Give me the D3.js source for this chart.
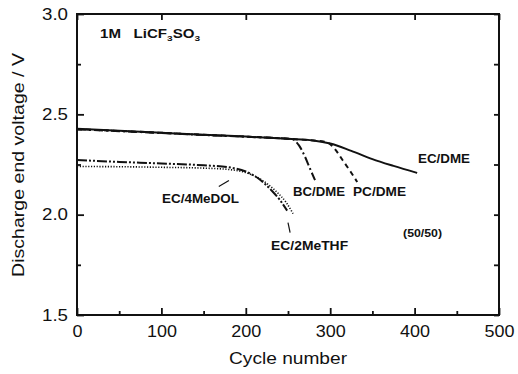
<!DOCTYPE html>
<html>
<head>
<meta charset="utf-8">
<script src="https://cdn.jsdelivr.net/npm/d3@7"></script>
<style>
  body { margin: 0; background: #fff; }
  svg { font-family: "Liberation Sans", Arial, sans-serif; }
</style>
</head>
<body>
<div id="chart"></div>
<script>
// data (cycle, voltage)
const ecDme = [[0,2.428],[50,2.418],[100,2.408],[150,2.398],[200,2.389],[250,2.378],[280,2.37],[300,2.355],[325,2.318],[350,2.277],[375,2.243],[403,2.208]];
const bcDme = [[0,2.425],[50,2.416],[100,2.407],[150,2.397],[200,2.388],[255,2.376],[263,2.345],[270,2.29],[276,2.23],[282,2.172]];
const pcDme = [[0,2.426],[50,2.417],[100,2.408],[150,2.398],[200,2.389],[250,2.378],[295,2.362],[305,2.33],[315,2.27],[324,2.215],[332,2.163]];
const ec4MeDOL = [[0,2.272],[50,2.263],[100,2.255],[150,2.246],[180,2.236],[200,2.215],[215,2.18],[230,2.123],[240,2.075],[249,2.02]];
const ec2MeTHF = [[0,2.24],[50,2.239],[100,2.236],[150,2.232],[180,2.225],[200,2.21],[220,2.17],[235,2.12],[248,2.06],[256,2.005]];

const xTicks = [0, 100, 200, 300, 400, 500];
const yTicks = [1.5, 2.0, 2.5, 3.0];
const xMinor = [50, 150, 250, 350, 450];
const yMinor = [1.75, 2.25, 2.75];

const W = 518, H = 374;
const margin = {top: 14, right: 19, bottom: 59, left: 77};
const width = W - margin.left - margin.right;
const height = H - margin.top - margin.bottom;

const svg = d3.select('#chart')
    .append('svg')
    .attr('width', W)
    .attr('height', H);

const g = svg.append('g')
    .attr('transform', `translate(${margin.left},${margin.top})`);

const x = d3.scaleLinear().domain([0, 500]).range([0, width]);
const y = d3.scaleLinear().domain([1.5, 3.0]).range([height, 0]);

// frame
g.append('rect')
    .attr('width', width)
    .attr('height', height)
    .attr('fill', 'none')
    .attr('stroke', '#111')
    .attr('stroke-width', 2);

function styleAxis(sel) {
    sel.select('.domain').remove();
    sel.selectAll('line').attr('stroke', '#111').attr('stroke-width', 1.8);
}

// bottom axis, labelled (glyphs are a bit wide in the original)
g.append('g')
    .attr('transform', `translate(0,${height})`)
    .call(d3.axisBottom(x).tickValues(xTicks).tickSize(-7).tickPadding(11).tickFormat(d3.format('d')))
    .call(styleAxis)
    .call(s => s.selectAll('text')
        .attr('font-size', 16)
        .attr('fill', '#111')
        .attr('textLength', d => d === 0 ? 10 : 30)
        .attr('lengthAdjust', 'spacingAndGlyphs'));
g.append('g')
    .attr('transform', `translate(0,${height})`)
    .call(d3.axisBottom(x).tickValues(xMinor).tickSize(-4).tickFormat(''))
    .call(styleAxis);

// left axis, labelled
g.append('g')
    .call(d3.axisLeft(y).tickValues(yTicks).tickSize(-7).tickPadding(9).tickFormat(d3.format('.1f')))
    .call(styleAxis)
    .call(s => s.selectAll('text')
        .attr('font-size', 16)
        .attr('fill', '#111')
        .attr('textLength', 26)
        .attr('lengthAdjust', 'spacingAndGlyphs'));
g.append('g')
    .call(d3.axisLeft(y).tickValues(yMinor).tickSize(-4).tickFormat(''))
    .call(styleAxis);

// top and right ticks
g.append('g')
    .call(d3.axisTop(x).tickValues(xTicks).tickSize(-6).tickFormat(''))
    .call(styleAxis);
g.append('g')
    .attr('transform', `translate(${width},0)`)
    .call(d3.axisRight(y).tickValues(yTicks.concat(yMinor)).tickSize(-5).tickFormat(''))
    .call(styleAxis);

// axis titles
svg.append('text')
    .attr('x', 229)
    .attr('y', 364)
    .attr('font-size', 16)
    .attr('fill', '#111')
    .attr('textLength', 118)
    .attr('lengthAdjust', 'spacingAndGlyphs')
    .text('Cycle number');

svg.append('text')
    .attr('transform', 'rotate(-90)')
    .attr('x', -277)
    .attr('y', 24)
    .attr('font-size', 17)
    .attr('fill', '#111')
    .attr('textLength', 224)
    .attr('lengthAdjust', 'spacingAndGlyphs')
    .text('Discharge end voltage / V');

// curves
const line = d3.line()
    .x(d => x(d[0]))
    .y(d => y(d[1]))
    .curve(d3.curveMonotoneX);

const series = [
    {data: ecDme, dash: null},
    {data: pcDme, dash: '5,4'},
    {data: bcDme, dash: '9,3,2,3'},
    {data: ec2MeTHF, dash: '1.2,1.6'},
    {data: ec4MeDOL, dash: '10,2,2,2,2,2'}
];

g.selectAll('.curve')
    .data(series)
    .enter()
    .append('path')
    .attr('class', 'curve')
    .attr('d', d => line(d.data))
    .attr('fill', 'none')
    .attr('stroke', '#111')
    .attr('stroke-width', d => d.dash === '1.2,1.6' ? 1.6 : 2)
    .attr('stroke-dasharray', d => d.dash);

// labels
const labels = [
    {t: 'EC/DME', cx: 404, cy: 2.257, size: 12.5, len: 52},
    {t: 'BC/DME', cx: 256, cy: 2.093, size: 12, len: 52},
    {t: 'PC/DME', cx: 327, cy: 2.093, size: 12, len: 53},
    {t: 'EC/4MeDOL', cx: 100.7, cy: 2.058, size: 12, len: 77},
    {t: 'EC/2MeTHF', cx: 230, cy: 1.824, size: 12, len: 77},
    {t: '(50/50)', cx: 386.3, cy: 1.889, size: 10, len: 39}
];

g.selectAll('.lbl')
    .data(labels)
    .enter()
    .append('text')
    .attr('class', 'lbl')
    .attr('x', d => x(d.cx))
    .attr('y', d => y(d.cy))
    .attr('font-size', d => d.size)
    .attr('font-weight', 'bold')
    .attr('fill', '#111')
    .attr('textLength', d => d.len)
    .attr('lengthAdjust', 'spacingAndGlyphs')
    .text(d => d.t);

// leader lines
const leaders = [
    [[168, 2.14], [180, 2.17]],
    [[252.5, 1.91], [250, 1.96]]
];
g.selectAll('.leader')
    .data(leaders)
    .enter()
    .append('line')
    .attr('x1', d => x(d[0][0])).attr('y1', d => y(d[0][1]))
    .attr('x2', d => x(d[1][0])).attr('y2', d => y(d[1][1]))
    .attr('stroke', '#111')
    .attr('stroke-width', 1.2);

// electrolyte title
const title = g.append('text')
    .attr('x', x(27.3))
    .attr('y', y(2.88))
    .attr('font-size', 12)
    .attr('font-weight', 'bold')
    .attr('fill', '#111')
    .attr('textLength', 100)
    .attr('lengthAdjust', 'spacingAndGlyphs');
title.append('tspan').text('1M\u00a0\u00a0\u00a0LiCF');
title.append('tspan').attr('font-size', 8).attr('dy', 3).text('3');
title.append('tspan').attr('dy', -3).text('SO');
title.append('tspan').attr('font-size', 8).attr('dy', 3).text('3');
</script>
</body>
</html>
